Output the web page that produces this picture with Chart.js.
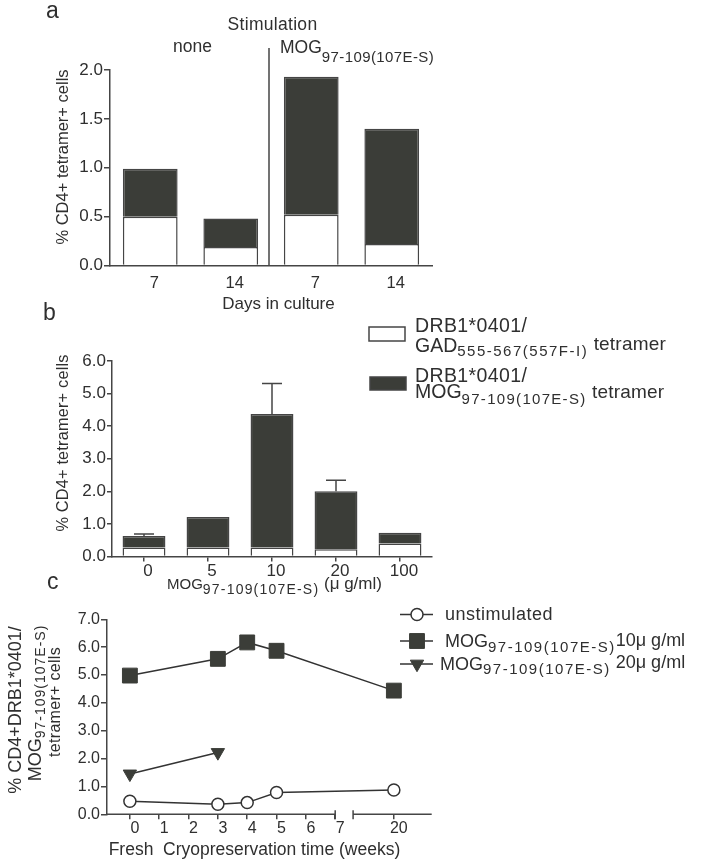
<!DOCTYPE html>
<html><head><meta charset="utf-8">
<script src="https://cdn.jsdelivr.net/npm/chart.js@4.4.1/dist/chart.umd.min.js"></script>
<style>
html,body{margin:0;padding:0;background:#fff;}
#wrap{position:relative;width:701px;height:865px;overflow:hidden;}
canvas{position:absolute;left:0;top:0;}
</style></head><body>
<div id="wrap">
<canvas id="ca" width="701" height="865"></canvas>
<canvas id="cb" width="701" height="865"></canvas>
<canvas id="cc" width="701" height="865"></canvas>
</div>
<script>
// ---------- data ----------
const aCategories = ['7', '14', '7', '14'];
const aGadValues = [0.50, 0.19, 0.52, 0.22];
const aMogValues = [0.49, 0.29, 1.41, 1.18];
const aYTicks = [0, 0.5, 1.0, 1.5, 2.0];

const bCategories = ['0', '5', '10', '20', '100'];
const bGadValues = [0.28, 0.28, 0.28, 0.22, 0.40];
const bMogValues = [0.35, 0.93, 4.09, 1.78, 0.33];
const bMogErrors = [0.06, 0, 0.94, 0.34, 0];
const bYTicks = [0, 1, 2, 3, 4, 5, 6];

const cWeekTicks = [0, 1, 2, 3, 4, 5, 6, 7, 20];
const cYTicks = [0, 1, 2, 3, 4, 5, 6, 7];
const cUnstimWeeks = [0, 3, 4, 5, 20];
const cUnstimValues = [0.47, 0.36, 0.42, 0.78, 0.87];
const cMog10Weeks = [0, 3, 4, 5, 20];
const cMog10Values = [4.98, 5.58, 6.17, 5.87, 4.44];
const cMog20Weeks = [0, 3];
const cMog20Values = [1.45, 2.22];

// ---------- style ----------
const FAMILY = '"Liberation Sans", Arial, Helvetica, sans-serif';
const TEXT = '#2f2f2f';
const AXIS = '#454545';
const DARK = '#3b3d38';
Chart.defaults.font.family = FAMILY;
Chart.defaults.color = TEXT;

function drawRich(ctx, parts, x, y, align, rotate) {
  ctx.save();
  ctx.translate(x, y);
  if (rotate) ctx.rotate(rotate);
  ctx.fillStyle = TEXT;
  ctx.textBaseline = 'alphabetic';
  ctx.textAlign = 'left';
  const segW = p => {
    ctx.font = p.f + 'px ' + FAMILY;
    if (!p.ls) return ctx.measureText(p.t).width;
    let w = 0;
    for (const ch of p.t) w += ctx.measureText(ch).width + p.ls;
    return w;
  };
  const total = parts.reduce((s, p) => s + segW(p), 0);
  let cx = align === 'center' ? -total / 2 : align === 'right' ? -total : 0;
  for (const p of parts) {
    ctx.font = p.f + 'px ' + FAMILY;
    if (!p.ls) { ctx.fillText(p.t, cx, p.dy || 0); cx += ctx.measureText(p.t).width; }
    else {
      for (const ch of p.t) { ctx.fillText(ch, cx, p.dy || 0); cx += ctx.measureText(ch).width + p.ls; }
    }
  }
  ctx.restore();
}

function layoutPad(T, R, B, xH) {
  return { padding: { left: 0, top: T, right: 701 - R, bottom: 865 - B - xH } };
}
const ROT = -Math.PI / 2;

// ---------- panel a ----------
new Chart(document.getElementById('ca'), {
  type: 'bar',
  data: {
    labels: aCategories,
    datasets: [
      { label: 'GAD', data: aGadValues, backgroundColor: '#ffffff', borderColor: AXIS, borderWidth: 1.5 },
      { label: 'MOG', data: aMogValues, backgroundColor: DARK, borderColor: AXIS, borderWidth: 1.5 }
    ]
  },
  options: {
    responsive: false, animation: false, devicePixelRatio: 1,
    layout: layoutPad(70, 432, 265.5, 40),
    datasets: { bar: { categoryPercentage: 1, barPercentage: 0.68 } },
    plugins: { legend: { display: false }, tooltip: { enabled: false } },
    scales: {
      x: {
        stacked: true,
        afterFit: s => { s.height = 40; },
        grid: { display: false },
        border: { display: true, color: AXIS, width: 1.5 },
        ticks: { font: { size: 16.5 }, padding: 0, labelOffset: 4, color: TEXT }
      },
      y: {
        stacked: true, min: 0, max: 2,
        afterFit: s => { s.width = 110; },
        afterBuildTicks: s => { s.ticks = aYTicks.map(v => ({ value: v })); },
        grid: { drawOnChartArea: false, drawTicks: true, tickLength: 6, color: AXIS, lineWidth: 1.5 },
        border: { display: true, color: AXIS, width: 1.5 },
        ticks: { font: { size: 17 }, padding: 1, color: TEXT, callback: v => Number(v).toFixed(1) }
      }
    }
  },
  plugins: [{
    id: 'annoA',
    afterDraw(chart) {
      const ctx = chart.ctx, xs = chart.scales.x, ca = chart.chartArea;
      const sx = (xs.getPixelForValue(1) + xs.getPixelForValue(2)) / 2 - 2;
      ctx.save();
      ctx.strokeStyle = AXIS; ctx.lineWidth = 1.5;
      ctx.beginPath(); ctx.moveTo(sx, ca.bottom); ctx.lineTo(sx, ca.top - 22); ctx.stroke();
      ctx.restore();
      drawRich(ctx, [{ t: 'a', f: 23 }], 46, 18);
      drawRich(ctx, [{ t: 'Stimulation', f: 17.5, ls: 0.3 }], 272.5, 30, 'center');
      drawRich(ctx, [{ t: 'none', f: 17.5 }], 173, 51.5);
      drawRich(ctx, [{ t: 'MOG', f: 17.5 }, { t: '97-109(107E-S)', f: 15, ls: 0.4, dy: 9 }], 280, 53.3);
      drawRich(ctx, [{ t: 'Days in culture', f: 17 }], 278.5, 309, 'center');
      drawRich(ctx, [{ t: '% CD4+ tetramer+ cells', f: 16.5 }], 68, 157, 'center', ROT);
    }
  }]
});

// ---------- panel b ----------
new Chart(document.getElementById('cb'), {
  type: 'bar',
  data: {
    labels: bCategories,
    datasets: [
      { label: 'DRB1*0401/GAD555-567(557F-I) tetramer', data: bGadValues, backgroundColor: '#ffffff', borderColor: AXIS, borderWidth: 1.5 },
      { label: 'DRB1*0401/MOG97-109(107E-S) tetramer', data: bMogValues, backgroundColor: DARK, borderColor: AXIS, borderWidth: 1.5 }
    ]
  },
  options: {
    responsive: false, animation: false, devicePixelRatio: 1,
    layout: layoutPad(361, 432, 556.5, 30),
    datasets: { bar: { categoryPercentage: 1, barPercentage: 0.67 } },
    plugins: { legend: { display: false }, tooltip: { enabled: false } },
    scales: {
      x: {
        stacked: true,
        afterFit: s => { s.height = 30; },
        grid: { display: true, offset: false, drawOnChartArea: false, drawTicks: true, tickLength: 5, color: AXIS, lineWidth: 1.5 },
        border: { display: true, color: AXIS, width: 1.5 },
        ticks: { font: { size: 17 }, padding: 0, labelOffset: 4, color: TEXT }
      },
      y: {
        stacked: true, min: 0, max: 6,
        afterFit: s => { s.width = 112; },
        afterBuildTicks: s => { s.ticks = bYTicks.map(v => ({ value: v })); },
        grid: { drawOnChartArea: false, drawTicks: true, tickLength: 5, color: AXIS, lineWidth: 1.5 },
        border: { display: true, color: AXIS, width: 1.5 },
        ticks: { font: { size: 17 }, padding: 1, color: TEXT, callback: v => Number(v).toFixed(1) }
      }
    }
  },
  plugins: [{
    id: 'annoB',
    afterDatasetsDraw(chart) {
      const ctx = chart.ctx, ys = chart.scales.y, meta = chart.getDatasetMeta(1);
      ctx.save();
      ctx.strokeStyle = AXIS; ctx.lineWidth = 1.5;
      bMogErrors.forEach((e, i) => {
        if (!e) return;
        const bar = meta.data[i];
        const top = ys.getPixelForValue(ys.getValueForPixel(bar.y) + e);
        ctx.beginPath();
        ctx.moveTo(bar.x, bar.y); ctx.lineTo(bar.x, top);
        ctx.moveTo(bar.x - 10, top); ctx.lineTo(bar.x + 10, top);
        ctx.stroke();
      });
      ctx.restore();
    },
    afterDraw(chart) {
      const ctx = chart.ctx;
      const ds = chart.data.datasets;
      // legend
      ctx.save();
      ctx.lineWidth = 1.5; ctx.strokeStyle = ds[0].borderColor; ctx.fillStyle = ds[0].backgroundColor;
      ctx.fillRect(369, 327, 36, 14); ctx.strokeRect(369, 327, 36, 14);
      ctx.fillStyle = ds[1].backgroundColor; ctx.strokeStyle = ds[1].borderColor;
      ctx.fillRect(370, 377, 36, 13); ctx.strokeRect(370, 377, 36, 13);
      ctx.restore();
      drawRich(ctx, [{ t: 'DRB1*0401/', f: 19.5, ls: 0.4 }], 415, 331.7);
      drawRich(ctx, [{ t: 'GAD', f: 19.5 }, { t: '555-567(557F-I)', f: 15, ls: 1.5, dy: 4.5 }, { t: ' tetramer', f: 19, ls: 0.2, dy: -1.5 }], 415, 351.5);
      drawRich(ctx, [{ t: 'DRB1*0401/', f: 19.5, ls: 0.4 }], 415, 381.7);
      drawRich(ctx, [{ t: 'MOG', f: 19.5 }, { t: '97-109(107E-S)', f: 15, ls: 1.3, dy: 6 }, { t: ' tetramer', f: 19, ls: 0.2 }], 415, 398.3);
      drawRich(ctx, [{ t: 'b', f: 23 }], 43, 320);
      drawRich(ctx, [{ t: '% CD4+ tetramer+ cells', f: 16.3, ls: 0.2 }], 68, 443, 'center', ROT);
      drawRich(ctx, [{ t: 'MOG', f: 15 }, { t: '97-109(107E-S)', f: 14, ls: 1.2, dy: 5 }, { t: ' (\u03bc g/ml)', f: 17 }], 167, 588.5);
    }
  }]
});

// ---------- panel c ----------
const weekPos = w => (w <= 7 ? w : w - 11);
const cPts = (ws, vs) => ws.map((w, i) => ({ x: weekPos(w), y: vs[i] }));

new Chart(document.getElementById('cc'), {
  type: 'line',
  data: {
    datasets: [
      { label: 'unstimulated', data: cPts(cUnstimWeeks, cUnstimValues), borderColor: '#333', borderWidth: 1.5,
        pointStyle: 'circle', pointRadius: 6, pointBackgroundColor: '#fff', pointBorderColor: '#333', pointBorderWidth: 1.5 },
      { label: 'MOG10', data: cPts(cMog10Weeks, cMog10Values), borderColor: '#333', borderWidth: 1.5,
        pointStyle: 'rect', pointRadius: 10.5, pointBackgroundColor: DARK, pointBorderColor: DARK, pointBorderWidth: 1 },
      { label: 'MOG20', data: cPts(cMog20Weeks, cMog20Values), borderColor: '#333', borderWidth: 1.5,
        pointStyle: 'triangle', pointRotation: 180, pointRadius: 7.7, pointBackgroundColor: DARK, pointBorderColor: DARK, pointBorderWidth: 1 }
    ]
  },
  options: {
    responsive: false, animation: false, devicePixelRatio: 1,
    layout: layoutPad(619.3, 431.7, 814.3, 30),
    plugins: { legend: { display: false }, tooltip: { enabled: false } },
    scales: {
      x: {
        type: 'linear', min: -0.78, max: 10.29,
        afterFit: s => { s.height = 30; },
        afterBuildTicks: s => { s.ticks = cWeekTicks.map(w => ({ value: weekPos(w) })); },
        grid: { display: true, drawOnChartArea: false, drawTicks: true, tickLength: 5, color: AXIS, lineWidth: 1.5 },
        border: { display: false },
        ticks: { font: { size: 16 }, padding: 0, labelOffset: 5, color: TEXT, callback: (v, i) => String(cWeekTicks[i]) }
      },
      y: {
        min: 0, max: 7,
        afterFit: s => { s.width = 107; },
        afterBuildTicks: s => { s.ticks = cYTicks.map(v => ({ value: v })); },
        grid: { drawOnChartArea: false, drawTicks: true, tickLength: 6, color: AXIS, lineWidth: 1.5 },
        border: { display: true, color: AXIS, width: 1.5 },
        ticks: { font: { size: 16 }, padding: 1, color: TEXT, callback: v => Number(v).toFixed(1) }
      }
    }
  },
  plugins: [{
    id: 'annoC',
    afterDraw(chart) {
      const ctx = chart.ctx, xs = chart.scales.x, ca = chart.chartArea;
      const yb = ca.bottom;
      const endA = xs.getPixelForValue(weekPos(7));
      const startB = xs.getPixelForValue(7.61);
      ctx.save();
      ctx.strokeStyle = AXIS; ctx.lineWidth = 1.5;
      ctx.beginPath();
      ctx.moveTo(ca.left, yb); ctx.lineTo(endA, yb);
      ctx.moveTo(endA, yb - 4); ctx.lineTo(endA, yb + 5);
      ctx.moveTo(startB, yb - 4); ctx.lineTo(startB, yb + 5);
      ctx.moveTo(startB, yb); ctx.lineTo(ca.right, yb);
      ctx.stroke();
      // legend
      const rows = [614.5, 641, 664];
      chart.data.datasets.forEach((d, i) => {
        const y = rows[i];
        ctx.strokeStyle = d.borderColor; ctx.lineWidth = 1.5;
        ctx.beginPath(); ctx.moveTo(400, y); ctx.lineTo(433, y); ctx.stroke();
        ctx.fillStyle = d.pointBackgroundColor; ctx.strokeStyle = d.pointBorderColor; ctx.lineWidth = d.pointBorderWidth;
        Chart.helpers.drawPoint(ctx, { pointStyle: d.pointStyle, rotation: d.pointRotation || 0, radius: d.pointRadius, borderWidth: d.pointBorderWidth }, 417, y);
      });
      ctx.restore();
      drawRich(ctx, [{ t: 'unstimulated', f: 18, ls: 0.5 }], 445, 620);
      drawRich(ctx, [{ t: 'MOG', f: 18 }, { t: '97-109(107E-S)', f: 15, ls: 1.5, dy: 5 }, { t: '10\u03bc g/ml', f: 18, dy: -1 }], 445, 646.7);
      drawRich(ctx, [{ t: 'MOG', f: 18 }, { t: '97-109(107E-S)', f: 15, ls: 1.5, dy: 4 }, { t: ' 20\u03bc g/ml', f: 18, dy: -2 }], 440, 670);
      drawRich(ctx, [{ t: 'c', f: 23 }], 47, 589);
      drawRich(ctx, [{ t: 'Fresh', f: 17.5 }], 131, 855, 'center');
      drawRich(ctx, [{ t: 'Cryopreservation time (weeks)', f: 17.5 }], 163, 855);
      drawRich(ctx, [{ t: '% CD4+DRB1*0401/', f: 18 }], 20.5, 710, 'center', ROT);
      drawRich(ctx, [{ t: 'MOG', f: 18 }, { t: '97-109(107E-S)', f: 14, ls: 1, dy: 4 }], 41, 703, 'center', ROT);
      drawRich(ctx, [{ t: 'tetramer+ cells', f: 16, ls: 0.3 }], 59.5, 702, 'center', ROT);
    }
  }]
});
</script>
</body></html>
